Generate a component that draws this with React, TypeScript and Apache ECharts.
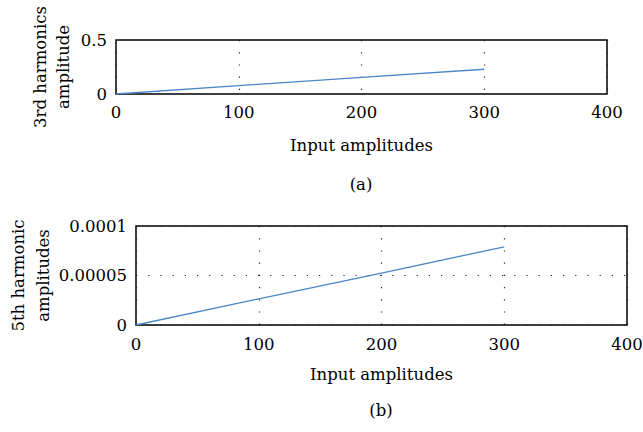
import React, { useEffect, useRef } from "react";
import * as echarts from "echarts";

const xA = [0, 100, 200, 300];
const yA = [0, 0.078, 0.154, 0.229];
const xB = [0, 100, 200, 300];
const yB = [0, 0.0000265, 0.0000525, 0.000079];
const yTicksA = ["0", "0.5"];
const yTicksB = ["0", "0.00005", "0.0001"];

const FONT = "DejaVu Serif";
const FS = 16.5;
const dotted = { color: "#222", width: 1.2, type: [1.2, 11] as any };

export default function App() {
  const ref = useRef<HTMLDivElement>(null);
  useEffect(() => {
    const chart = echarts.init(ref.current!, null, { renderer: "svg" });
    const axisLabel = { color: "#000", fontFamily: FONT, fontSize: FS };
    const nameStyle = { color: "#000", fontFamily: FONT, fontSize: FS, lineHeight: 23 };
    chart.setOption({
      animation: false,
      textStyle: { fontFamily: FONT },
      grid: [
        { left: 116, right: 36, top: 40, height: 54, show: true, borderColor: "#000", borderWidth: 1.5, containLabel: false, outerBoundsMode: "none" },
        { left: 136, right: 16, top: 226, height: 99, show: true, borderColor: "#000", borderWidth: 1.5, containLabel: false, outerBoundsMode: "none" },
      ],
      xAxis: [
        {
          gridIndex: 0, type: "value", min: 0, max: 400, interval: 100,
          axisLine: { show: false }, axisTick: { show: false },
          axisLabel: { ...axisLabel, margin: 10 },
          splitLine: { show: true, lineStyle: dotted },
          name: "Input amplitudes", nameLocation: "middle", nameGap: 40, nameMoveOverlap: false, nameTextStyle: nameStyle,
        },
        {
          gridIndex: 1, type: "value", min: 0, max: 400, interval: 100,
          axisLine: { show: false }, axisTick: { show: false },
          axisLabel: { ...axisLabel, margin: 11 },
          splitLine: { show: true, lineStyle: dotted },
          name: "Input amplitudes", nameLocation: "middle", nameGap: 38, nameMoveOverlap: false, nameTextStyle: nameStyle,
        },
      ],
      yAxis: [
        {
          gridIndex: 0, type: "value", min: 0, max: 0.5, interval: 0.5,
          axisLine: { show: false }, axisTick: { show: false },
          axisLabel: { ...axisLabel, margin: 9, formatter: (v: number, i: number) => yTicksA[i] },
          splitLine: { show: false },
          name: "3rd harmonics\namplitude", nameLocation: "middle", nameGap: 41, nameMoveOverlap: false, nameTextStyle: nameStyle,
        },
        {
          gridIndex: 1, type: "value", min: 0, max: 0.0001, interval: 0.00005,
          axisLine: { show: false }, axisTick: { show: false },
          axisLabel: { ...axisLabel, margin: 9, formatter: (v: number, i: number) => yTicksB[i] },
          splitLine: { show: true, lineStyle: dotted },
          name: "5th harmonic\namplitudes", nameLocation: "middle", nameGap: 80, nameMoveOverlap: false,
          nameTextStyle: { ...nameStyle, lineHeight: 25 },
        },
      ],
      series: [
        {
          type: "line", xAxisIndex: 0, yAxisIndex: 0, showSymbol: false,
          lineStyle: { color: "#4a86c5", width: 1.3 },
          data: xA.map((x, i) => [x, yA[i]]),
        },
        {
          type: "line", xAxisIndex: 1, yAxisIndex: 1, showSymbol: false,
          lineStyle: { color: "#4a86c5", width: 1.3 },
          data: xB.map((x, i) => [x, yB[i]]),
        },
      ],
      graphic: [
        { type: "text", x: 361, y: 184, style: { text: "(a)", fill: "#000", font: `${FS}px "${FONT}"`, textAlign: "center", textVerticalAlign: "middle" } },
        { type: "text", x: 381, y: 410, style: { text: "(b)", fill: "#000", font: `${FS}px "${FONT}"`, textAlign: "center", textVerticalAlign: "middle" } },
      ],
    });
    return () => chart.dispose();
  }, []);
  return <div ref={ref} style={{ width: 643, height: 432, position: "absolute", left: 0, top: 0 }} />;
}
